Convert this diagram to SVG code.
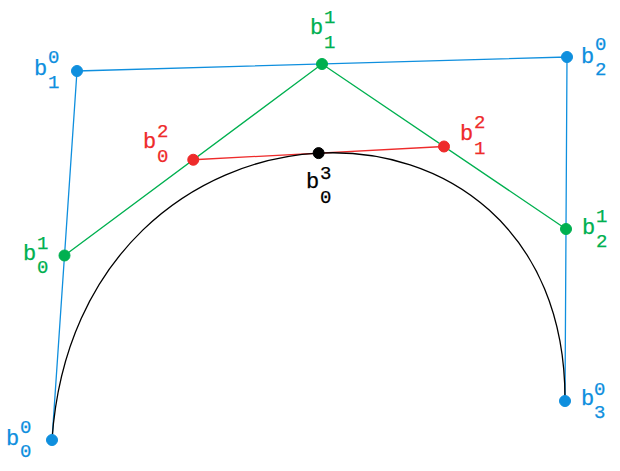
<svg xmlns="http://www.w3.org/2000/svg" width="620" height="471" viewBox="0 0 620 471">
<style>
.t{font-family:"Liberation Mono","DejaVu Sans Mono",monospace;stroke-width:0.25;}
.b{font-size:22px;}
.d{font-size:19px;}
.blue{fill:#0f8fde;stroke:#0f8fde;}
.green{fill:#00b050;stroke:#00b050;}
.red{fill:#ee2b2b;stroke:#ee2b2b;}
.black{fill:#000;stroke:#000;}
circle{stroke:none;}
</style>
<rect width="620" height="471" fill="#fff"/>
<g id="connectors" fill="none" stroke-width="1.3">
<polyline id="control-polygon" points="52,440 77,71 567,57 565,401" stroke="#0f8fde"/>
<polyline id="level1" points="64.5,255.5 322,64 566,229" stroke="#00b050"/>
<line id="level2" x1="193.25" y1="159.75" x2="444" y2="146.5" stroke="#ee2b2b"/>
<path id="curve" d="M52,440 C77,71 567,57 565,401" stroke="#000"/>
</g>
<g id="b00"><circle cx="52" cy="440" r="5.5" class="blue"/><text class="t blue"><tspan class="b" x="6" y="445">b</tspan><tspan class="d" x="20" y="433">0</tspan><tspan class="d" x="20" y="457">0</tspan></text></g>
<g id="b10"><circle cx="77" cy="71" r="5.5" class="blue"/><text class="t blue"><tspan class="b" x="34" y="75">b</tspan><tspan class="d" x="48" y="63">0</tspan><tspan class="d" x="48" y="88">1</tspan></text></g>
<g id="b20"><circle cx="567" cy="57" r="5.5" class="blue"/><text class="t blue"><tspan class="b" x="581" y="63">b</tspan><tspan class="d" x="595" y="50">0</tspan><tspan class="d" x="595" y="75">2</tspan></text></g>
<g id="b30"><circle cx="565" cy="401" r="5.5" class="blue"/><text class="t blue"><tspan class="b" x="581" y="405">b</tspan><tspan class="d" x="594" y="395">0</tspan><tspan class="d" x="594" y="418">3</tspan></text></g>
<g id="b01"><circle cx="64.5" cy="255.5" r="5.5" class="green"/><text class="t green"><tspan class="b" x="23" y="260">b</tspan><tspan class="d" x="37" y="249">1</tspan><tspan class="d" x="37" y="273">0</tspan></text></g>
<g id="b11"><circle cx="322" cy="64" r="5.5" class="green"/><text class="t green"><tspan class="b" x="310" y="34">b</tspan><tspan class="d" x="324" y="23">1</tspan><tspan class="d" x="324" y="48">1</tspan></text></g>
<g id="b21"><circle cx="566" cy="229" r="5.5" class="green"/><text class="t green"><tspan class="b" x="582" y="234">b</tspan><tspan class="d" x="596" y="222">1</tspan><tspan class="d" x="596" y="247">2</tspan></text></g>
<g id="b02"><circle cx="193.25" cy="159.75" r="5.5" class="red"/><text class="t red"><tspan class="b" x="143" y="148">b</tspan><tspan class="d" x="157" y="137">2</tspan><tspan class="d" x="157" y="162">0</tspan></text></g>
<g id="b12"><circle cx="444" cy="146.5" r="5.5" class="red"/><text class="t red"><tspan class="b" x="460" y="140">b</tspan><tspan class="d" x="474" y="128">2</tspan><tspan class="d" x="474" y="154">1</tspan></text></g>
<g id="b03"><circle cx="318.6" cy="153.1" r="5.5" class="black"/><text class="t black"><tspan class="b" x="306" y="188">b</tspan><tspan class="d" x="320" y="179">3</tspan><tspan class="d" x="320" y="203">0</tspan></text></g>
</svg>
